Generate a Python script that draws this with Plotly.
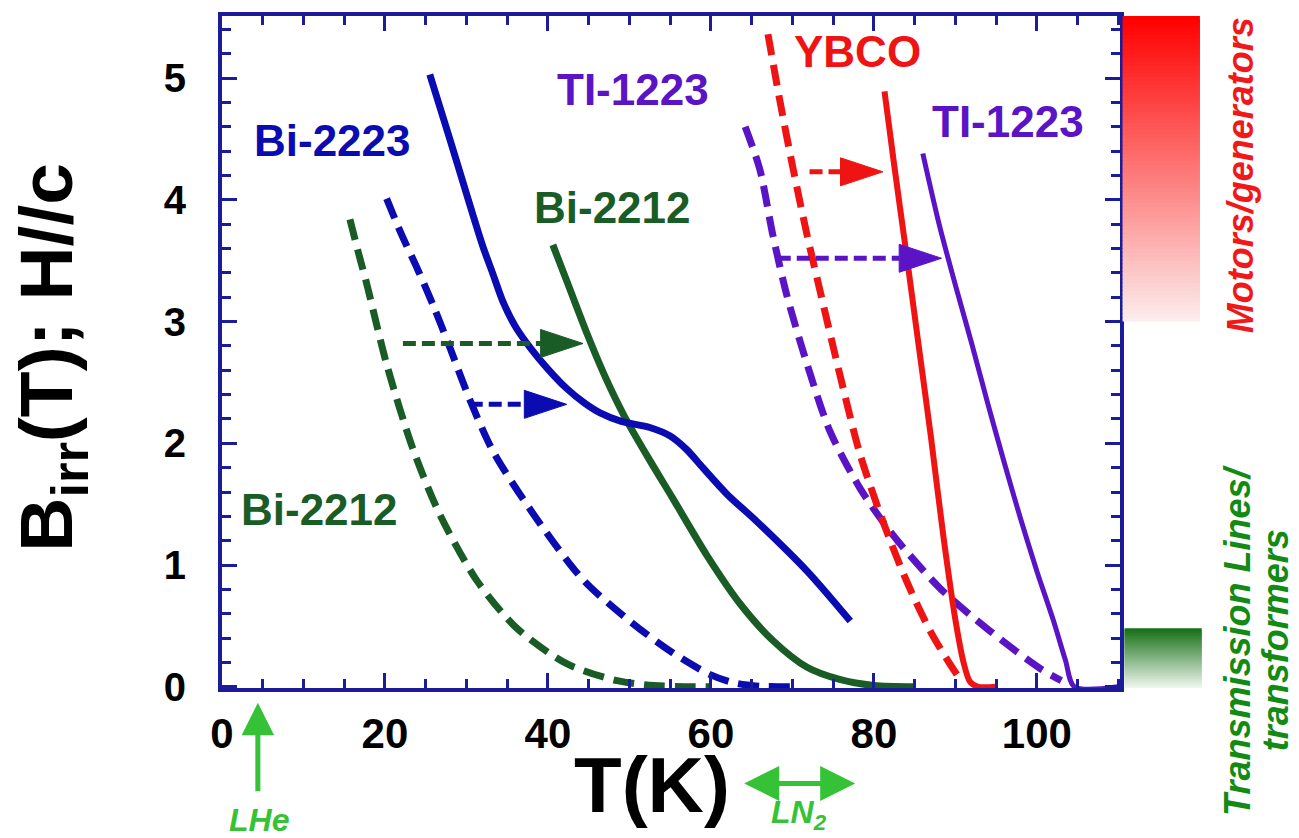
import plotly.graph_objects as go

# ---------------- data ----------------
# Bi-2212 dashed (lower, before processing)
bi2212_dash_T = [15.7, 16.8, 17.8, 20.2, 23.4, 26.7, 31.3, 36.2, 42.3, 48.5, 53.0, 60.0]
bi2212_dash_B = [3.84, 3.55, 3.30, 2.65, 1.96, 1.42, 0.87, 0.48, 0.19, 0.05, 0.01, 0.0]
# Bi-2223 dashed
bi2223_dash_T = [20.2, 22.0, 24.0, 26.0, 28.0, 30.4, 33.3, 38.2, 44.3, 50.4, 55.3, 59.9, 63.0, 66.0, 70.0]
bi2223_dash_B = [4.01, 3.72, 3.43, 3.12, 2.78, 2.36, 1.93, 1.42, 0.88, 0.52, 0.28, 0.10, 0.03, 0.005, 0.0]
# Bi-2223 solid
bi2223_T = [25.5, 28.0, 30.0, 32.0, 33.2, 34.5, 36.0, 38.0, 40.0, 42.3, 44.5, 46.4, 49.0, 52.5, 55.0, 57.0, 59.0, 62.0, 65.6, 71.8, 77.1]
bi2223_B = [5.03, 4.49, 4.05, 3.62, 3.40, 3.16, 2.96, 2.77, 2.61, 2.45, 2.33, 2.25, 2.18, 2.13, 2.06, 1.95, 1.80, 1.58, 1.36, 0.95, 0.54]
# Bi-2212 solid
bi2212_T = [40.6, 42.5, 44.8, 47.0, 49.4, 52.5, 55.3, 59.5, 63.6, 67.6, 71.8, 75.8, 80.0, 85.0]
bi2212_B = [3.63, 3.30, 2.90, 2.55, 2.22, 1.86, 1.55, 1.08, 0.68, 0.38, 0.16, 0.06, 0.01, 0.0]
# Tl-1223 dashed
tl1223_dash_T = [64.2, 66.0, 67.6, 69.3, 71.8, 74.6, 78.3, 82.3, 88.1, 94.2, 100.4, 103.0]
tl1223_dash_B = [4.60, 4.25, 3.71, 3.22, 2.65, 2.10, 1.63, 1.25, 0.81, 0.46, 0.15, 0.05]
# YBCO dashed
ybco_dash_T = [67.0, 68.5, 70.1, 71.8, 73.4, 75.8, 78.3, 81.1, 84.0, 86.9, 89.3, 90.8]
ybco_dash_B = [5.36, 4.80, 4.25, 3.71, 3.25, 2.57, 1.91, 1.36, 0.87, 0.46, 0.19, 0.04]
# YBCO solid
ybco_T = [81.3, 82.5, 84.0, 85.5, 87.0, 88.5, 90.0, 91.0, 91.8, 92.8, 95.0]
ybco_B = [4.89, 4.28, 3.55, 2.80, 2.05, 1.25, 0.55, 0.20, 0.04, 0.0, 0.0]
# Tl-1223 solid
tl1223_T = [86.0, 88.0, 90.0, 92.0, 94.0, 96.0, 98.0, 100.0, 102.0, 103.5, 104.6, 110.0]
tl1223_B = [4.38, 3.80, 3.30, 2.82, 2.32, 1.84, 1.38, 0.95, 0.55, 0.22, 0.0, 0.0]

# improvement arrows (dashed -> solid)
arrow_T0 = [22.2, 30.4, 72.1, 68.2]
arrow_T1 = [44.3, 42.3, 81.1, 88.3]
arrow_B = [2.82, 2.32, 4.23, 3.52]

# curve labels
label_text = ["Bi-2223", "TI-1223", "YBCO", "TI-1223", "Bi-2212", "Bi-2212"]
label_T = [13.6, 50.4, 78.0, 96.4, 47.9, 12.0]
label_B = [4.49, 4.91, 5.22, 4.64, 3.94, 1.46]

# cryogen temperatures
T_LHe = 4.4
T_LN2 = [63.9, 77.7]

# application bands (T)
motor_band = [3.0, 5.51]
trans_band = [-0.025, 0.48]

x_ticks = [0, 20, 40, 60, 80, 100]
y_ticks = [0, 1, 2, 3, 4, 5]

# ---------------- styles ----------------
BLUE = "#0b0bb2"
GREEN = "#1a5c26"
RED = "#ee1414"
PURPLE = "#5a14c6"
NAVY = "#1c1c9a"
BRIGHT_GREEN = "#36c236"
FONT = "Liberation Sans, Arial, sans-serif"

fig = go.Figure()

def curve(T, B, color, dash=None, width=7):
    fig.add_trace(go.Scatter(
        x=T, y=B, mode="lines",
        line=dict(color=color, width=width, shape="spline", smoothing=0.8,
                  dash=dash if dash else "solid"),
        showlegend=False, hoverinfo="skip"))

DASH = "21px,10px"
curve(bi2212_dash_T, bi2212_dash_B, GREEN, DASH)
curve(bi2223_dash_T, bi2223_dash_B, BLUE, DASH)
curve(bi2212_T, bi2212_B, GREEN)
curve(bi2223_T, bi2223_B, BLUE)
curve(tl1223_dash_T, tl1223_dash_B, PURPLE, DASH)
curve(ybco_dash_T, ybco_dash_B, RED, DASH)
curve(ybco_T, ybco_B, RED, width=6)
curve(tl1223_T, tl1223_B, PURPLE, width=5)

# dashed arrows with filled heads
arrow_colors = [GREEN, BLUE, RED, PURPLE]
head_len = 5.2
head_half = 0.115
for t0, t1, b, c in zip(arrow_T0, arrow_T1, arrow_B, arrow_colors):
    fig.add_trace(go.Scatter(
        x=[t0, t1 - head_len], y=[b, b], mode="lines",
        line=dict(color=c, width=5, dash="13px,6px"),
        showlegend=False, hoverinfo="skip"))
    fig.add_trace(go.Scatter(
        x=[t1 - head_len, t1, t1 - head_len, t1 - head_len],
        y=[b + head_half, b, b - head_half, b + head_half],
        mode="lines", fill="toself", fillcolor=c,
        line=dict(color=c, width=1),
        showlegend=False, hoverinfo="skip"))

# curve labels
label_colors = [BLUE, PURPLE, RED, PURPLE, GREEN, GREEN]
for txt, t, b, c in zip(label_text, label_T, label_B, label_colors):
    fig.add_annotation(x=t, y=b, xref="x", yref="y", text=txt, showarrow=False,
                       font=dict(family=FONT, size=44, color=c, weight="bold"),
                       xanchor="center", yanchor="middle")

# gradient bands on the right
def band(y0, y1, top_rgb, bot_rgb, x0, x1, n=80):
    step = (y1 - y0) / n
    for i in range(n):
        f = i / (n - 1)
        r = round(top_rgb[0] + (bot_rgb[0] - top_rgb[0]) * f)
        g = round(top_rgb[1] + (bot_rgb[1] - top_rgb[1]) * f)
        bl = round(top_rgb[2] + (bot_rgb[2] - top_rgb[2]) * f)
        ya = y1 - step * i
        yb = max(y0, ya - step * 1.8)
        fig.add_shape(type="rect", xref="paper", yref="y", x0=x0, x1=x1,
                      y0=yb, y1=ya, fillcolor=f"rgb({r},{g},{bl})",
                      line=dict(width=0), layer="above")

band(motor_band[0], motor_band[1], (255, 0, 0), (252, 236, 236), 1.003, 1.089)
band(trans_band[0], trans_band[1], (24, 112, 24), (244, 250, 244), 1.005, 1.091, n=40)

SIDE_FONT = dict(family=FONT, size=36, weight="bold")
fig.add_annotation(x=1.1336, y=0.763, xref="paper", yref="paper",
                   text="<i>Motors/generators</i>", textangle=-90, showarrow=False,
                   font=dict(**SIDE_FONT, color="#f01818"),
                   xanchor="center", yanchor="middle")
fig.add_annotation(x=1.131, y=0.071, xref="paper", yref="paper",
                   text="<i>Transmission Lines/</i>", textangle=-90, showarrow=False,
                   font=dict(**SIDE_FONT, color="#138a13"),
                   xanchor="center", yanchor="middle")
fig.add_annotation(x=1.1726, y=0.071, xref="paper", yref="paper",
                   text="<i>transformers</i>", textangle=-90, showarrow=False,
                   font=dict(**SIDE_FONT, color="#138a13"),
                   xanchor="center", yanchor="middle")

# axis titles
fig.add_annotation(x=-0.19, y=0.492, xref="paper", yref="paper",
                   text="B<sub>irr</sub>(T); H//c", textangle=-90, showarrow=False,
                   font=dict(family=FONT, size=75, color="black", weight="bold"),
                   xanchor="center", yanchor="middle")
fig.add_annotation(x=0.479, y=-0.145, xref="paper", yref="paper",
                   text="T(K)", showarrow=False,
                   font=dict(family=FONT, size=78, color="black", weight="bold"),
                   xanchor="center", yanchor="middle")

# cryogen arrows
fig.add_annotation(x=T_LHe, y=-0.022, xref="x", yref="paper", text="",
                   showarrow=True, ax=0, ay=90, arrowhead=2, arrowsize=1.3,
                   arrowwidth=5, arrowcolor=BRIGHT_GREEN, standoff=0)
fig.add_annotation(x=T_LHe + 0.2, y=-0.196, xref="x", yref="paper",
                   text="<i>LHe</i>", showarrow=False,
                   font=dict(family=FONT, size=32, color=BRIGHT_GREEN, weight="bold"),
                   xanchor="center", yanchor="middle")
fig.add_annotation(x=T_LN2[1], y=-0.142, xref="x", yref="paper", text="",
                   showarrow=True, ax=T_LN2[0], ay=0, axref="x", ayref="pixel",
                   arrowhead=2, arrowside="end+start", arrowsize=1.4,
                   arrowwidth=5, arrowcolor=BRIGHT_GREEN, standoff=0, startstandoff=0)
fig.add_annotation(x=(T_LN2[0] + T_LN2[1]) / 2, y=-0.188, xref="x", yref="paper",
                   text="<i>LN<sub>2</sub></i>", showarrow=False,
                   font=dict(family=FONT, size=32, color=BRIGHT_GREEN, weight="bold"),
                   xanchor="center", yanchor="middle")

axis_common = dict(
    showgrid=False, zeroline=False,
    showline=True, linecolor=NAVY, linewidth=4, mirror="allticks",
    ticks="inside", ticklen=15, tickwidth=3, tickcolor=NAVY,
)
fig.update_xaxes(**axis_common, range=[0, 110.2], tickvals=x_ticks,
                 ticktext=[str(v) for v in x_ticks],
                 tickfont=dict(family=FONT, size=42, color="black", weight="bold"),
                 ticklabelstandoff=6,
                 minor=dict(dtick=5, tick0=0, ticks="inside", ticklen=9,
                            tickwidth=3, tickcolor=NAVY))
fig.update_yaxes(**axis_common, range=[-0.01, 5.51], tickvals=y_ticks,
                 ticktext=[str(v) for v in y_ticks],
                 tickfont=dict(family=FONT, size=40, color="black", weight="bold"),
                 ticklabelstandoff=24,
                 minor=dict(dtick=0.2, tick0=0, ticks="inside", ticklen=9,
                            tickwidth=3, tickcolor=NAVY))

fig.update_layout(
    width=1299, height=838,
    margin=dict(l=222, r=179, t=13, b=150),
    paper_bgcolor="white", plot_bgcolor="white",
    showlegend=False,
)

fig.write_html("out.html")
